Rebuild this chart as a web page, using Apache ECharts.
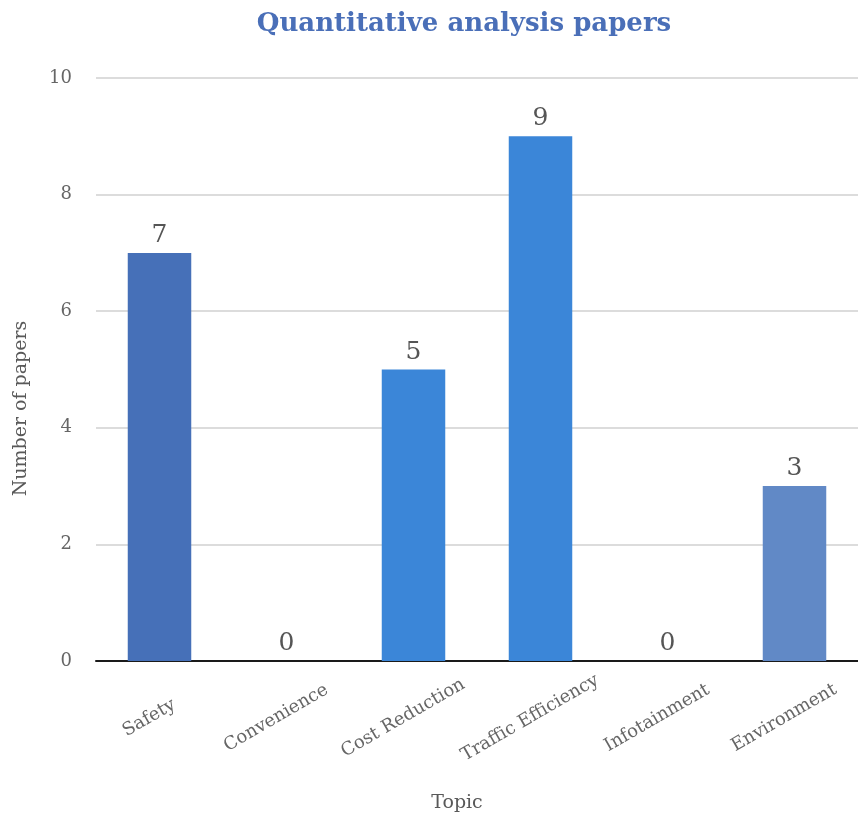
<!DOCTYPE html>
<html>
<head>
<meta charset="utf-8">
<title>Quantitative analysis papers</title>
<script src="https://cdn.jsdelivr.net/npm/echarts@6/dist/echarts.min.js"></script>
<style>
  html, body { margin: 0; padding: 0; background: #ffffff; }
  #chart { width: 858px; height: 818px; }
</style>
</head>
<body>
<div id="chart"></div>
<script>
// Papers per topic
const topics = ['Safety', 'Convenience', 'Cost Reduction', 'Traffic Efficiency', 'Infotainment', 'Environment'];
const paperCounts = [7, 0, 5, 9, 0, 3];
const yTicks = [0, 2, 4, 6, 8, 10];

// Fill colour for each topic's bar
const barColors = ['#4670B8', '#3B86D8', '#3B86D8', '#3B86D8', '#3B86D8', '#6189C6'];

const FONT = '"DejaVu Serif", "Liberation Serif", serif';

const chart = echarts.init(document.getElementById('chart'), null, { renderer: 'canvas' });

chart.setOption({
  backgroundColor: '#ffffff',
  animation: false,
  title: {
    text: 'Quantitative analysis papers',
    left: 459,
    top: 6,
    textAlign: 'center',
    textStyle: { fontFamily: FONT, fontWeight: 'bold', fontSize: 26, color: '#4A6FB8' }
  },
  grid: { left: 96, right: -6, top: 78, bottom: 157, containLabel: false },
  xAxis: {
    type: 'category',
    data: topics,
    name: 'Topic',
    nameLocation: 'middle',
    nameGap: 133,
    nameTextStyle: { fontFamily: FONT, fontSize: 19, color: '#595959', padding: [0, 40, 0, 0] },
    axisLine: { show: true, lineStyle: { color: '#1a1a1a', width: 2 } },
    axisTick: { show: false },
    axisLabel: {
      rotate: 30,
      interval: 0,
      margin: 51,
      align: 'center',
      verticalAlign: 'middle',
      padding: [0, 24, 14, 0],
      fontFamily: FONT,
      fontSize: 18,
      color: '#666666'
    }
  },
  yAxis: {
    type: 'value',
    min: yTicks[0],
    max: yTicks[yTicks.length - 1],
    interval: yTicks[1] - yTicks[0],
    name: 'Number of papers',
    nameLocation: 'middle',
    nameGap: 65,
    nameTextStyle: { fontFamily: FONT, fontSize: 19, color: '#595959', padding: [0, 78, 0, 0] },
    axisLine: { show: false },
    axisTick: { show: false },
    axisLabel: { margin: 24, fontFamily: FONT, fontSize: 18, color: '#666666' },
    splitLine: { lineStyle: { color: '#d0d0d0', width: 1.5 } }
  },
  series: [{
    type: 'bar',
    barWidth: '50%',
    data: paperCounts.map((v, i) => ({ value: v, itemStyle: { color: barColors[i] } })),
    label: {
      show: true,
      position: 'top',
      distance: 5,
      fontFamily: FONT,
      fontSize: 25,
      color: '#555555'
    }
  }]
});
</script>
</body>
</html>
